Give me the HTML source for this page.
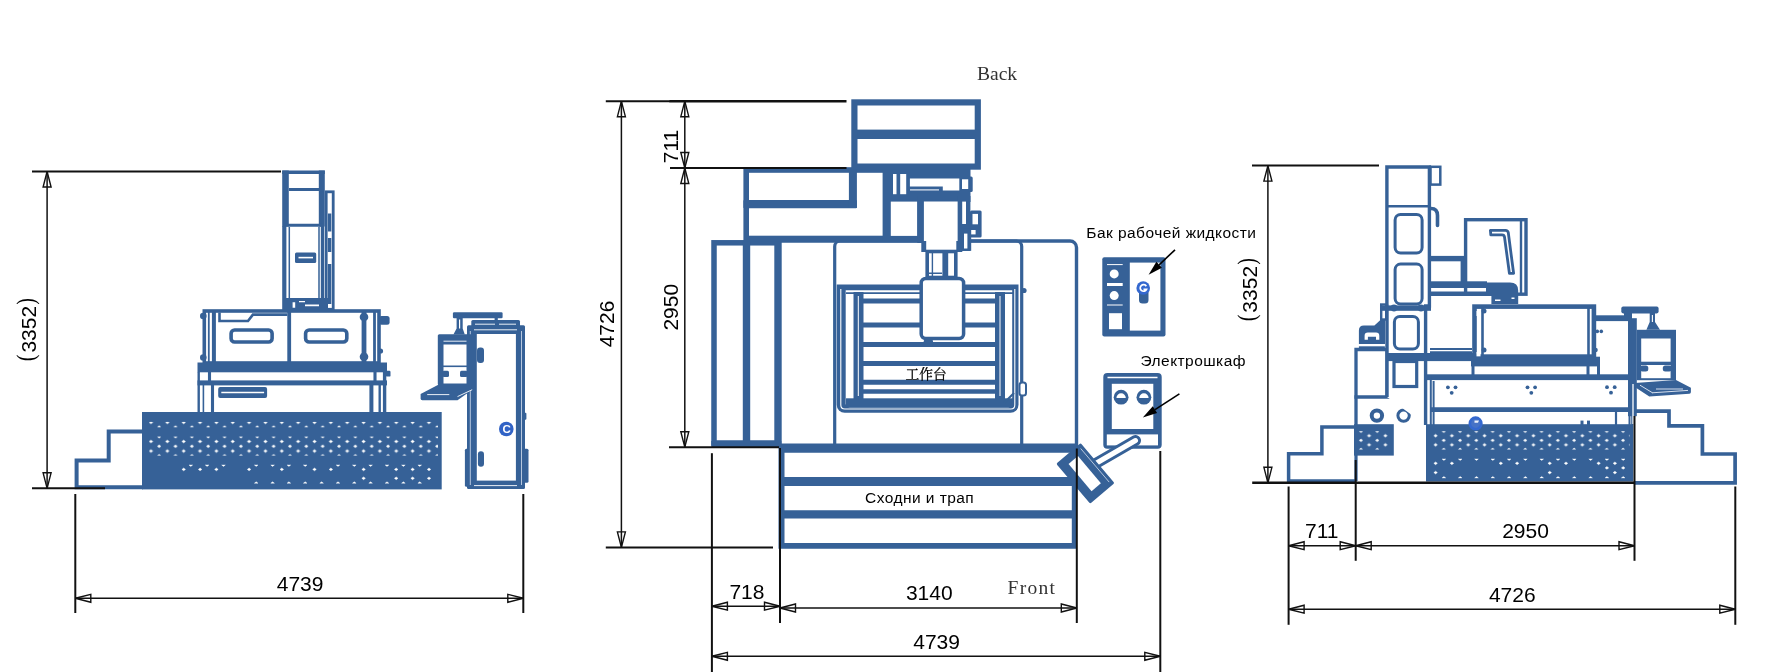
<!DOCTYPE html>
<html><head><meta charset="utf-8"><title>Machine layout</title>
<style>
html,body{margin:0;padding:0;background:#fff;}
body{width:1775px;height:672px;overflow:hidden;}
svg{display:block;will-change:transform;}
.b{stroke:#366197;fill:none;}
.bw{stroke:#366197;fill:#fff;}
.bf{fill:#366197;stroke:none;}
.k{stroke:#111;fill:none;stroke-width:1.5;}
.ke{stroke:#111;fill:none;stroke-width:2;}
.ar{fill:none;stroke:#111;stroke-width:1.4;}
.t{font-family:"Liberation Sans",sans-serif;font-size:21px;fill:#000;text-anchor:middle;}
.pf{font-family:"Liberation Serif",serif;font-size:26px;fill:#000;text-anchor:middle;}
.ts{font-family:"Liberation Sans",sans-serif;font-size:15.5px;letter-spacing:0.45px;fill:#000;}
.sf{font-family:"Liberation Serif","Noto Serif CJK SC",serif;fill:#333;}
</style></head><body>
<svg width="1775" height="672" viewBox="0 0 1775 672">
<defs>
<pattern id="dots" x="148.5" y="420" width="16.35" height="9.55" patternUnits="userSpaceOnUse">
<path d="M2.500 1l1.800 1.400-1.800 1.400-1.800-1.400zM10.675 5.775l1.800 1.400-1.800 1.400-1.800-1.400z" fill="#fff" stroke="#fff" stroke-width=".4" stroke-linejoin="round"/>
</pattern>
<pattern id="dotr" x="1433.100" y="433.500" width="16.300" height="9.100" patternUnits="userSpaceOnUse">
<path d="M2.500 .900l1.800 1.400-1.800 1.400-1.800-1.400zM10.650 5.450l1.800 1.400-1.800 1.400-1.800-1.400z" fill="#fff" stroke="#fff" stroke-width=".4" stroke-linejoin="round"/>
</pattern>
<pattern id="dots2" x="1366.600" y="433.500" width="16.300" height="9.100" patternUnits="userSpaceOnUse">
<path d="M2.500 .900l1.800 1.400-1.800 1.400-1.800-1.400zM10.650 5.450l1.800 1.400-1.800 1.400-1.800-1.400z" fill="#fff" stroke="#fff" stroke-width=".4" stroke-linejoin="round"/>
</pattern>
</defs>
<rect width="1775" height="672" fill="#fff"/>
<!--LEFT-->
<g id="left">
<!-- column -->
<rect x="283" y="171" width="41" height="139" fill="#fff"/>
<path class="b" stroke-width="6.600" d="M285.500 170.500v56"/>
<path class="b" stroke-width="6" d="M321.800 170.500v56"/>
<path class="b" stroke-width="3.400" d="M282.200 172.300h42.600"/>
<path class="b" stroke-width="3" d="M289 189.500h30M286 225.200h36"/>
<path class="b" stroke-width="4.200" d="M284.300 226v84"/>
<path class="b" stroke-width="3.400" d="M322.500 226v84"/>
<path class="b" stroke-width="1.500" d="M289.300 227v72M319 227v72"/>
<rect class="bw" x="326.200" y="191.800" width="7" height="117.500" stroke-width="2.800"/>
<path class="b" stroke-width="3.400" d="M329.600 213.600v18M329.600 238v14M329.600 264v40"/>
<rect class="bf" x="295" y="252.400" width="21.200" height="10.500" rx="1.500"/>
<path d="M298.500 257.600h14.500" stroke="#fff" stroke-width="1.600"/>
<rect class="bf" x="286" y="298" width="42" height="12"/>
<path d="M292.600 302.300h2.600v5.500h-2.600zM305 304.400h14v1.800h-14zM299 301h6v1.200h-6z" fill="#fff"/>
<!-- tank -->
<rect class="bw" x="204.300" y="311" width="174.700" height="52" stroke-width="3.600"/>
<path class="b" stroke-width="1.800" d="M208.800 312v50"/>
<path class="b" stroke-width="4" d="M213.900 312v50"/>
<path class="b" stroke-width="4.800" d="M364 312v50"/>
<path class="b" stroke-width="2.800" d="M374.500 312v50"/>
<rect class="bf" x="287.300" y="311" width="3.800" height="52"/>
<rect class="bw" x="231.100" y="330" width="41" height="12" rx="3.500" stroke-width="3.600"/>
<rect class="bw" x="305.600" y="330" width="41.200" height="12" rx="3.500" stroke-width="3.600"/>
<path class="b" stroke-width="2.600" d="M219.500 312.500v8.500h28.500l4.900-6.400h34.500"/>
<rect class="bf" x="379" y="316.100" width="10.600" height="8.700" rx="2.500"/>
<circle class="bf" cx="203.300" cy="316" r="3.300"/><circle class="bf" cx="203.300" cy="357.500" r="3.300"/>
<circle class="bf" cx="364" cy="317" r="4.300"/><circle class="bf" cx="364" cy="356.700" r="4.300"/>
<circle class="bf" cx="380.500" cy="351" r="2.600"/>
<!-- table -->
<rect class="bf" x="197.500" y="362.500" width="189.500" height="9.800"/>
<rect class="bf" x="197.500" y="380.400" width="189.500" height="5"/>
<path class="b" stroke-width="2.400" d="M198.700 372v40"/><path class="b" stroke-width="3.400" d="M384.600 372v40"/>
<path class="b" stroke-width="3.100" d="M209.500 372v9M375 372v9"/>
<path class="b" stroke-width="3.100" d="M212.500 385v27"/><path class="b" stroke-width="4" d="M371.400 385v27"/>
<path class="b" stroke-width="1.600" d="M203.400 385v27"/><path class="b" stroke-width="2.400" d="M379.700 385v27"/>
<rect class="bf" x="386" y="370.800" width="4.500" height="5.800" rx="1.200"/>
<rect class="bf" x="218.200" y="387.100" width="48.900" height="10.800" rx="2"/>
<path d="M221.300 392.500h42.800" stroke="#fff" stroke-width="1.600"/>
<!-- grate -->
<rect class="bf" x="142" y="412" width="299.700" height="77.400"/>
<rect x="149" y="421.900" width="289" height="5.400" fill="url(#dots)"/>
<rect x="149" y="436.600" width="289" height="19" fill="url(#dots)"/>
<path d="M189.0 465.0h3.6l-1.8 1.4zM205.3 465.0h3.6l-1.8 1.4zM221.7 465.0h3.6l-1.8 1.4zM254.4 465.0h3.6l-1.8 1.4zM270.8 465.0h3.6l-1.8 1.4zM287.1 465.0h3.6l-1.8 1.4zM303.4 465.0h3.6l-1.8 1.4zM336.2 465.0h3.6l-1.8 1.4zM352.5 465.0h3.6l-1.8 1.4zM368.8 465.0h3.6l-1.8 1.4zM385.2 465.0h3.6l-1.8 1.4zM401.6 465.0h3.6l-1.8 1.4zM417.9 465.0h3.6l-1.8 1.4zM183.7 468.0l1.8 1.4 -1.8 1.4 -1.8 -1.4zM200.1 468.0l1.8 1.4 -1.8 1.4 -1.8 -1.4zM216.4 468.0l1.8 1.4 -1.8 1.4 -1.8 -1.4zM249.1 468.0l1.8 1.4 -1.8 1.4 -1.8 -1.4zM281.8 468.0l1.8 1.4 -1.8 1.4 -1.8 -1.4zM314.5 468.0l1.8 1.4 -1.8 1.4 -1.8 -1.4zM330.9 468.0l1.8 1.4 -1.8 1.4 -1.8 -1.4zM363.6 468.0l1.8 1.4 -1.8 1.4 -1.8 -1.4zM396.2 468.0l1.8 1.4 -1.8 1.4 -1.8 -1.4zM412.6 468.0l1.8 1.4 -1.8 1.4 -1.8 -1.4zM429.0 468.0l1.8 1.4 -1.8 1.4 -1.8 -1.4zM363.6 476.9l1.8 1.4 -1.8 1.4 -1.8 -1.4zM396.2 476.9l1.8 1.4 -1.8 1.4 -1.8 -1.4zM412.6 476.9l1.8 1.4 -1.8 1.4 -1.8 -1.4zM429.0 476.9l1.8 1.4 -1.8 1.4 -1.8 -1.4zM256.2 481.8l1.8 1.4h-3.6zM272.6 481.8l1.8 1.4h-3.6zM288.9 481.8l1.8 1.4h-3.6zM305.2 481.8l1.8 1.4h-3.6zM321.6 481.8l1.8 1.4h-3.6zM338.0 481.8l1.8 1.4h-3.6zM354.3 481.8l1.8 1.4h-3.6zM370.6 481.8l1.8 1.4h-3.6zM387.0 481.8l1.8 1.4h-3.6zM403.4 481.8l1.8 1.4h-3.6zM419.7 481.8l1.8 1.4h-3.6z" fill="#fff" stroke="#fff" stroke-width=".4" stroke-linejoin="round"/>
<!-- steps -->
<path class="b" stroke-width="4" d="M143 431.600h-34.300v29h-32.100v26.700h66.400" fill="#fff"/>
<!-- cabinet -->
<rect class="bf" x="471.300" y="319.900" width="48.700" height="8" rx="1.500"/>
<rect class="bf" x="467" y="325.300" width="58" height="163.800" rx="1.500"/>
<rect class="bf" x="464.900" y="448.800" width="5" height="38" rx="1.500"/>
<rect class="bf" x="523" y="448.800" width="5.500" height="34" rx="1.500"/>
<rect class="bf" x="523" y="412.700" width="3.400" height="7.100" rx="1"/>
<rect x="476.800" y="334" width="39.100" height="146.600" fill="#fff"/>
<path d="M475 324.200h20M499 324.200h17M474 329.800h43M474 485.600h43" stroke="#e8eef6" stroke-width="1"/>
<path d="M470.300 331v154M521.500 331v154" stroke="#c5d3e6" stroke-width=".9"/>
<rect class="bf" x="477" y="347.400" width="7" height="15.600" rx="3"/>
<rect class="bf" x="477.900" y="451.200" width="6.100" height="15.600" rx="3"/>
<!-- pendant -->
<rect class="bf" x="452.900" y="312.300" width="49.700" height="5.900" rx="1.200"/>
<rect class="bf" x="494.600" y="317" width="3.200" height="5"/>
<path class="bf" d="M456.600 317h6.100v11.600l2.100 5.800h-11.400l3.200 -5.800z"/>
<path d="M459.600 319.500v9" stroke="#fff" stroke-width="1.200"/>
<rect class="bf" x="437.800" y="334.200" width="35.200" height="51.200" rx="1.500"/>
<path d="M443.500 341.200h23" stroke="#e8eef6" stroke-width="1"/>
<rect x="443.500" y="344.500" width="23" height="21" fill="#fff"/>
<rect x="443.500" y="367.100" width="23" height="16.400" fill="#fff"/>
<rect class="bf" x="442.500" y="370.700" width="6.500" height="6.300" rx="1.500"/><rect class="bf" x="460" y="370.700" width="7.500" height="6.300" rx="1.500"/>
<path class="bf" d="M420.600 394.100l17.200 -9h35.200v4.100l-15.500 11h-35.200q-1.700 0 -1.700 -1.700z"/>
<path d="M427.200 394.600h22.100M457.500 396.600l14.700 -6.900" stroke="#e8eef6" stroke-width="1" fill="none"/>
<!-- logo -->
<circle cx="506.300" cy="429" r="7.300" fill="#3163c6"/>
<text x="506.700" y="433.100" text-anchor="middle" font-family="Liberation Sans,sans-serif" font-weight="bold" font-size="11.500" fill="#fff">C</text>
</g>
<!--MID-->
<g id="mid">
<!-- main bed thin outlines -->
<path class="bw" stroke-width="3.400" d="M780 241h290a6.500 6.500 0 0 1 6.500 6.500v197.700h-296.500z"/>
<path class="b" stroke-width="3.200" d="M834.700 445v-198.500a5.500 5.500 0 0 1 5.500 -5.500h176a5.500 5.500 0 0 1 5.500 5.500v198.500"/>
<!-- left block -->
<rect class="bw" x="714" y="242.800" width="64" height="200.200" stroke-width="5.500"/>
<rect class="bf" x="742.800" y="242" width="7.400" height="203"/>
<rect class="bf" x="774.300" y="242" width="6.300" height="203"/>
<rect class="bf" x="711.300" y="441" width="70" height="6.200"/>
<!-- L block upper-left -->
<rect class="bw" x="746.200" y="170" width="141" height="68.500" stroke-width="5.600"/>
<rect class="bf" x="743.400" y="200.100" width="113.500" height="8.100" rx="1"/>
<rect class="bf" x="848.900" y="169" width="8" height="39"/>
<rect class="bf" x="882.600" y="169" width="8.200" height="72"/>

<!-- head zone -->
<rect class="bf" x="888" y="168" width="82.500" height="34"/>
<rect x="893" y="174" width="3.500" height="20.200" fill="#fff"/>
<rect x="900.200" y="174" width="6" height="20.200" fill="#fff"/>
<path d="M909.900 178.600h49.400v11.900h-16.500v-4h-32.900z" fill="#fff"/>
<path d="M910 189.800h29M930 197.200h19.600" stroke="#dbe4f0" stroke-width="1.200"/>
<rect class="bf" x="968" y="176.400" width="4.700" height="15.600" rx="1.500"/>
<rect x="962" y="179.300" width="6.200" height="9.700" fill="#fff"/>
<rect class="bf" x="888" y="200" width="36" height="41"/>
<rect x="890.800" y="201.600" width="26.500" height="34.300" fill="#fff"/>
<path class="bf" d="M917.300 196h45v56h-41v-9h-4z"/>
<path d="M923.900 201.600h33.900v39.400h-1.500v9.400h-30.100v-9.400h-2.300z" fill="#fff"/>
<rect class="bf" x="957.800" y="196" width="12.600" height="55"/>
<rect x="962.200" y="201.600" width="3.800" height="22.400" fill="#fff"/>
<rect class="bf" x="970" y="210.600" width="11.600" height="26.800" rx="1.500"/>
<rect x="972.500" y="213.900" width="5.500" height="10.400" fill="#fff"/>
<rect x="971" y="230" width="4.600" height="4.400" fill="#fff"/>
<rect class="bf" x="963" y="228.400" width="8.200" height="22.400"/>
<rect x="964" y="233.600" width="3.400" height="14.900" fill="#fff"/>
<!-- tank/table -->
<path class="bf" d="M836.700 284.500h181.800v120.300a8 8 0 0 1 -8 8h-165.800a8 8 0 0 1 -8 -8z"/>
<path d="M845.700 290.200h166.500v113a4 4 0 0 1 -4 4h-158.500a4 4 0 0 1 -4 -4z" fill="#fff"/>
<path class="b" stroke-width="1.100" d="M840.800 289v116q0 4 4 4h166q4 0 4 -4v-116" style="stroke:#fff"/>
<path class="b" stroke-width="1.800" d="M846 293.200h167"/>
<rect class="bf" x="853.500" y="292" width="10" height="108"/>
<rect class="bf" x="995" y="292" width="10" height="108"/>
<path d="M858.300 296v100M1000 296v100" stroke="#fff" stroke-width="1"/>
<path class="b" stroke-width="5" d="M862 301h135M862 325h135M862 344.400h135M862 363.500h135M862 382.300h135"/>
<path class="b" stroke-width="4.500" d="M862 391.500h135"/>
<rect class="bf" x="846" y="398.300" width="167" height="9"/>
<circle class="bf" cx="1024" cy="290.500" r="2.600"/>
<rect class="bw" x="1019.500" y="382.500" width="6.500" height="13" rx="2.500" stroke-width="2"/>
<path class="b" stroke-width="2.200" d="M1004 403l10-10"/>
<!-- head neck & lower -->
<rect class="bw" x="927.200" y="251.500" width="28.600" height="26" stroke-width="3.600"/>
<path class="b" stroke-width="1.400" d="M932.400 252v25M929 273.300h13"/>
<path class="b" stroke-width="5.800" d="M945.300 252v25"/>
<rect class="bw" x="921.200" y="278.500" width="42.400" height="60" rx="4.500" stroke-width="3.500"/>
<rect class="bf" x="923.700" y="339" width="9.300" height="8" rx="2.500"/>
<!-- top box -->
<rect class="bw" x="854.400" y="102.400" width="123.400" height="64.200" stroke-width="6.200"/>
<rect class="bf" x="852" y="129.600" width="128" height="9.400"/>
<!-- ramp steps -->
<rect x="780" y="448" width="295" height="99" fill="#fff"/>
<path class="bf" d="M778.500 446.500h298.100v102.300h-298.100zM784.500 452.800v24.300h287.300v-24.300zM784.500 486v24.300h287.300v-24.300zM784.500 518.500v24.600h287.300v-24.600z" fill-rule="evenodd"/>
<!-- liquid tank -->
<rect class="bf" x="1102.300" y="257.200" width="63.200" height="79.400" rx="2"/>
<rect x="1129.800" y="262.600" width="30.600" height="68" fill="#fff"/>
<path d="M1107 264.600h15.700M1107 305h15.700" stroke="#fff" stroke-width="1"/>
<rect x="1107" y="283" width="15.700" height="3" fill="#fff"/>
<circle cx="1114.200" cy="273.900" r="4.500" fill="#fff"/><circle cx="1114.200" cy="295.600" r="4.500" fill="#fff"/>
<rect x="1109" y="313.200" width="13" height="16" fill="#fff"/>
<rect class="bf" x="1139" y="289" width="9.500" height="14.500" rx="3.500"/>
<circle cx="1143.200" cy="288" r="6.800" fill="#3468cf"/>
<path d="M1146.300 286.200a3.300 3.300 0 1 0 .2 3.100h-3" stroke="#fff" stroke-width="1.700" fill="none"/>
<!-- electric cabinet -->
<rect class="bf" x="1103.300" y="373" width="58.400" height="75.800" rx="4"/>
<path d="M1107.500 377.600h50" stroke="#fff" stroke-width="1.500"/>
<rect x="1111.800" y="383.800" width="41.500" height="45.200" fill="#fff"/>
<rect x="1106.800" y="434.400" width="51.200" height="11" fill="#fff"/>
<circle class="bf" cx="1121.100" cy="397.200" r="7.400"/>
<circle class="bf" cx="1143.900" cy="397.200" r="7.400"/>
<path d="M1116.400 398a4.700 4.700 0 0 1 9.400 0zM1139.200 398a4.700 4.700 0 0 1 9.400 0z" fill="#fff"/>
<!-- arm -->
<path d="M1135.500 440.500l-41.500 24" stroke="#366197" stroke-width="11" stroke-linecap="round" fill="none"/>
<path d="M1135.500 440.500l-41.500 24" stroke="#fff" stroke-width="5" stroke-linecap="round" fill="none"/>
<g transform="translate(1085.400 473.400) rotate(49.700)">
<rect class="bf" x="-26.200" y="-16" width="52.400" height="32" rx="1.500"/>
<rect x="-18" y="-5.500" width="35.500" height="12.300" fill="#fff"/>
<path d="M-22 -12.500h44" stroke="#c9d6e8" stroke-width=".8"/>
</g>
</g>
<!--RIGHT-->
<g id="right">
<!-- stairs left -->
<path class="bw" stroke-width="3.500" d="M1356 427h-34.100v26.700h-33.300v27.400h67.400"/>
<!-- stairs right -->
<path class="bw" stroke-width="3.700" d="M1635 411.200H1669V425.900H1702.400V454H1735.100V482.900H1635"/>
<!-- left block -->
<path class="bw" stroke-width="3.300" d="M1356 425.500v-76h31v47.500"/>
<path class="b" stroke-width="3.400" d="M1354.400 397h72"/>
<path class="b" stroke-width="3.200" d="M1356 425v56"/>
<circle class="bw" cx="1376.900" cy="415.600" r="5.200" stroke-width="4"/>
<circle class="bw" cx="1403.600" cy="415.600" r="5.700" stroke-width="3"/>
<path class="bf" d="M1358.900 344v-13.500q0-5 5-5h10.500l6-5.500h4.600v24z"/>
<rect class="bf" x="1358.900" y="346.300" width="26" height="2"/>
<path d="M1364.600 339.800v-4q0-3.300 3.300-3.300h8.100q3.300 0 3.300 3.300v4h-3.300v-3h-8.100v3z" fill="#fff"/>
<rect class="bw" x="1381.200" y="304.500" width="5" height="15" stroke-width="2.400"/>
<!-- small grate -->
<rect class="bf" x="1354" y="424.200" width="39.800" height="31.400"/>
<rect x="1358" y="431.200" width="33" height="18.300" fill="url(#dots2)"/>
<!-- column -->
<path class="bw" stroke-width="3.400" d="M1387 397v-91h-.1v-139h42.500v139h-3.800v119"/>
<rect class="bw" x="1430.500" y="166.800" width="9.800" height="17.800" stroke-width="2.500"/>
<path class="b" stroke-width="2.600" d="M1388 206.300h42"/>
<rect class="bw" x="1395.100" y="214.500" width="27" height="38.500" rx="5.500" stroke-width="3"/>
<rect class="bw" x="1395.100" y="264.100" width="27" height="39.900" rx="5.500" stroke-width="3"/>
<rect class="bw" x="1394.400" y="316.500" width="24" height="32.500" rx="5.500" stroke-width="3"/>
<rect class="bf" x="1380.500" y="305.400" width="50.500" height="5.400"/>
<circle class="bf" cx="1394" cy="308" r="3.400"/><circle class="bf" cx="1421" cy="308" r="3.400"/>
<rect class="bf" x="1386" y="353" width="90" height="8.100"/>
<rect class="bw" x="1394" y="361.500" width="22.700" height="25" stroke-width="3.200"/>

<path class="b" stroke-width="3.600" d="M1431 208.500q6.500 0 6.500 7v10" stroke-linecap="round"/>
<!-- head box -->
<rect class="bw" x="1465.600" y="219.700" width="60.400" height="74.500" stroke-width="3.400"/>
<path class="b" stroke-width="2.400" d="M1521 220v74"/>
<path class="bw" stroke-width="2.800" stroke-linejoin="round" d="M1490.400 230.300h15q2.500 0 2.900 2.500l5.300 40.500h-4.200l-4.900-36.300q-.3-2.200-2.500-2.200h-11.200z"/>
<!-- arms -->
<rect class="bf" x="1431" y="255.900" width="35" height="5.400"/>
<rect class="bf" x="1460.600" y="256" width="5.400" height="26"/>
<rect class="bf" x="1431" y="281.300" width="56" height="6.700"/>
<rect class="bf" x="1431" y="291.500" width="58" height="4.500"/>
<path class="bf" d="M1486 282.600h24q8.200 0 8.200 8v13.400h-26.800v-8h-5.400z"/>
<path d="M1495 300.300h5.500M1511.500 298.300h3" stroke="#fff" stroke-width="1.600"/>
<!-- between column and tank -->
<path class="b" stroke-width="2" d="M1430 349h42M1430 352.300h42"/>
<!-- tank -->
<rect class="bw" x="1474.500" y="306.600" width="119.400" height="50" stroke-width="4.600"/>
<path class="b" stroke-width="2.600" d="M1482.500 307v50M1588.500 307v50"/>
<rect x="1476.500" y="311" width="4" height="5" fill="#fff"/><rect x="1476.500" y="352" width="4" height="4.500" fill="#fff"/>
<circle class="bf" cx="1484" cy="311" r="2.500"/><circle class="bf" cx="1484" cy="350" r="2.500"/>
<rect class="bf" x="1471" y="356.700" width="129" height="9.700"/>
<path class="b" stroke-width="3" d="M1473 365v10M1588 365v10M1598.500 365v10"/>
<!-- base -->
<rect class="bf" x="1426" y="374.300" width="206.500" height="5.800"/>
<path class="b" stroke-width="2" d="M1430.800 376v49M1433.600 381v44"/>
<path class="b" stroke-width="4.800" d="M1430 409.600h201"/>
<path class="b" stroke-width="2" d="M1629.500 380v45M1632.200 380v45"/>
<path class="b" stroke-width="2.200" d="M1616 411v14"/>
<g class="bf"><circle cx="1447.900" cy="387.300" r="1.900"/><circle cx="1455.500" cy="387.300" r="1.900"/><circle cx="1451.700" cy="392.800" r="1.900"/>
<circle cx="1527.500" cy="387.300" r="1.900"/><circle cx="1535.100" cy="387.300" r="1.900"/><circle cx="1531.300" cy="392.800" r="1.900"/>
<circle cx="1607" cy="387.200" r="1.900"/><circle cx="1614.700" cy="387.200" r="1.900"/><circle cx="1611" cy="392.700" r="1.900"/></g>
<!-- main grate -->
<rect class="bf" x="1426" y="424.200" width="207.300" height="57.300"/>
<rect x="1432" y="431.200" width="198" height="18.300" fill="url(#dotr)"/>
<path d="M1442.1 459.0h3.6l-1.8 1.4zM1458.4 459.0h3.6l-1.8 1.4zM1474.7 459.0h3.6l-1.8 1.4zM1491.0 459.0h3.6l-1.8 1.4zM1507.3 459.0h3.6l-1.8 1.4zM1523.6 459.0h3.6l-1.8 1.4zM1539.9 459.0h3.6l-1.8 1.4zM1556.2 459.0h3.6l-1.8 1.4zM1572.5 459.0h3.6l-1.8 1.4zM1588.8 459.0h3.6l-1.8 1.4zM1605.1 459.0h3.6l-1.8 1.4zM1621.4 459.0h3.6l-1.8 1.4zM1435.6 461.9l1.8 1.4 -1.8 1.4 -1.8 -1.4zM1451.9 461.9l1.8 1.4 -1.8 1.4 -1.8 -1.4zM1500.8 461.9l1.8 1.4 -1.8 1.4 -1.8 -1.4zM1517.1 461.9l1.8 1.4 -1.8 1.4 -1.8 -1.4zM1549.7 461.9l1.8 1.4 -1.8 1.4 -1.8 -1.4zM1566.0 461.9l1.8 1.4 -1.8 1.4 -1.8 -1.4zM1598.6 461.9l1.8 1.4 -1.8 1.4 -1.8 -1.4zM1614.9 461.9l1.8 1.4 -1.8 1.4 -1.8 -1.4zM1606.9 466.5l1.8 1.4 -1.8 1.4 -1.8 -1.4zM1623.2 466.5l1.8 1.4 -1.8 1.4 -1.8 -1.4zM1435.6 471.2l1.8 1.4 -1.8 1.4 -1.8 -1.4zM1549.7 471.2l1.8 1.4 -1.8 1.4 -1.8 -1.4zM1614.9 471.2l1.8 1.4 -1.8 1.4 -1.8 -1.4zM1443.9 476.5l1.8 1.4h-3.6zM1460.2 476.5l1.8 1.4h-3.6zM1476.5 476.5l1.8 1.4h-3.6zM1492.8 476.5l1.8 1.4h-3.6zM1509.1 476.5l1.8 1.4h-3.6zM1525.4 476.5l1.8 1.4h-3.6zM1541.7 476.5l1.8 1.4h-3.6zM1558.0 476.5l1.8 1.4h-3.6zM1574.3 476.5l1.8 1.4h-3.6zM1590.6 476.5l1.8 1.4h-3.6zM1606.9 476.5l1.8 1.4h-3.6zM1623.2 476.5l1.8 1.4h-3.6z" fill="#fff" stroke="#fff" stroke-width=".4" stroke-linejoin="round"/>
<rect class="bf" x="1580.500" y="420.600" width="3" height="4.500"/><rect class="bf" x="1587" y="420.600" width="3" height="4.500"/>
<!-- right of tank -->
<rect class="bf" x="1595" y="315.300" width="34" height="5.800"/>
<circle class="bf" cx="1597.300" cy="331.400" r="1.800"/><circle class="bf" cx="1601.300" cy="331.400" r="1.800"/>
<circle class="bf" cx="1595.500" cy="350" r="2.300"/>
<!-- pendant -->
<rect class="bf" x="1621.300" y="306.600" width="37.300" height="6.800" rx="1.800"/>
<rect class="bf" x="1624" y="312" width="8" height="8"/>
<rect class="bf" x="1628" y="318.200" width="8.800" height="98"/>
<path d="M1633 384v40" stroke="#fff" stroke-width="1.300"/>
<path class="bf" d="M1649.700 313h5.300v9l5 7.800h-13.600l3.300 -7.800z"/>
<path d="M1652.400 315v7" stroke="#fff" stroke-width="1.100"/>
<rect class="bf" x="1636.700" y="329.800" width="39.300" height="50.400"/>
<rect x="1641.200" y="338.500" width="29.400" height="23.200" fill="#fff"/>
<path d="M1641.200 365h29.400v13.200h-29.400z" fill="#fff"/>
<rect class="bf" x="1640" y="365.600" width="8.300" height="6" rx="2.500"/><rect class="bf" x="1662.800" y="365.600" width="9" height="6" rx="2.500"/>
<path class="bf" d="M1634.800 383l41.200 -2.900l14.900 7.700v4.300q0 1.500 -1.500 1.600l-40.100 2.800l-14.500 -9.600z"/>
<path d="M1640 385.200l12.500 7.600M1656 389h27M1652 392.800l36 -2.400" stroke="#d5dfed" stroke-width="1" fill="none"/>
<!-- logo -->
<circle cx="1475.600" cy="423.400" r="5.800" fill="#4672c6" stroke="#3468cf" stroke-width="2.600"/>
<path d="M1474.500 420.500h4.500l-1 2.200h-3.500z" fill="#fff" opacity=".9"/>
</g>
<!--DIMS-->
<g id="dims">
<path class="ke" d="M32 171.5L281 171.5"/>
<path class="ke" d="M32 488.3L105 488.3"/>
<path class="k" d="M47.1 171.5L47.1 488.3"/>
<path class="ar" d="M0 0L15.5 -4V4Z" transform="translate(47.1 171.5) rotate(90)"/>
<path class="ar" d="M0 0L15.5 -4V4Z" transform="translate(47.1 488.3) rotate(-90)"/>
<text class="t" transform="translate(36.2 329.2) rotate(-90)">3352</text>
<text class="pf" transform="translate(34.3 301.3) rotate(-90) scale(0.78 1)">)</text>
<text class="pf" transform="translate(34.3 358) rotate(-90) scale(0.78 1)">(</text>
<path class="ke" d="M75.3 494L75.3 613"/>
<path class="ke" d="M523.3 494L523.3 613"/>
<path class="k" d="M75.3 598.3L523.3 598.3"/>
<path class="ar" d="M0 0L15.5 -4V4Z" transform="translate(75.3 598.3) rotate(0)"/>
<path class="ar" d="M0 0L15.5 -4V4Z" transform="translate(523.3 598.3) rotate(180)"/>
<text class="t" x="300.1" y="590.9">4739</text>
<path class="ke" d="M605.8 101.2L670 101.2"/>
<path d="M669.5 101.3H846.5" stroke="#111" stroke-width="2.5"/>
<path class="ke" d="M670 168.1L846.5 168.1"/>
<path class="ke" d="M669 447.2L779 447.2"/>
<path class="ke" d="M605.8 547.4L773 547.4"/>
<path class="k" d="M621.4 101.2L621.4 547.4"/>
<path class="ar" d="M0 0L15.5 -4V4Z" transform="translate(621.4 101.2) rotate(90)"/>
<path class="ar" d="M0 0L15.5 -4V4Z" transform="translate(621.4 547.4) rotate(-90)"/>
<text class="t" transform="translate(614.1 324) rotate(-90)">4726</text>
<path class="k" d="M684.8 101.2L684.8 168"/>
<path class="ar" d="M0 0L15.5 -4V4Z" transform="translate(684.8 101.2) rotate(90)"/>
<path class="ar" d="M0 0L15.5 -4V4Z" transform="translate(684.8 168) rotate(-90)"/>
<path class="k" d="M684.8 168L684.8 447.2"/>
<path class="ar" d="M0 0L15.5 -4V4Z" transform="translate(684.8 168) rotate(90)"/>
<path class="ar" d="M0 0L15.5 -4V4Z" transform="translate(684.8 447.2) rotate(-90)"/>
<text class="t" transform="translate(677.8 146.5) rotate(-90)">711</text>
<text class="t" transform="translate(677.8 307.2) rotate(-90)">2950</text>
<path class="ke" d="M711.9 453.2L711.9 672"/>
<path class="ke" d="M780 448L780 623"/>
<path class="ke" d="M1076.8 448.5L1076.8 623"/>
<path class="ke" d="M1160.3 451L1160.3 672"/>
<path class="k" d="M711.9 606.2L780 606.2"/>
<path class="ar" d="M0 0L15.5 -4V4Z" transform="translate(711.9 606.2) rotate(0)"/>
<path class="ar" d="M0 0L15.5 -4V4Z" transform="translate(780 606.2) rotate(180)"/>
<path class="k" d="M780 608L1076.8 608"/>
<path class="ar" d="M0 0L15.5 -4V4Z" transform="translate(780 608) rotate(0)"/>
<path class="ar" d="M0 0L15.5 -4V4Z" transform="translate(1076.8 608) rotate(180)"/>
<path class="k" d="M711.9 656.3L1160.3 656.3"/>
<path class="ar" d="M0 0L15.5 -4V4Z" transform="translate(711.9 656.3) rotate(0)"/>
<path class="ar" d="M0 0L15.5 -4V4Z" transform="translate(1160.3 656.3) rotate(180)"/>
<text class="t" x="746.9" y="598.5">718</text>
<text class="t" x="929.3" y="600.4">3140</text>
<text class="t" x="936.6" y="648.6">4739</text>
<path class="ke" d="M1252 165.6L1379 165.6"/>
<path d="M1252.200 482.800H1634" stroke="#111" stroke-width="2.400"/>
<path class="k" d="M1267.9 165.6L1267.9 482.8"/>
<path class="ar" d="M0 0L15.5 -4V4Z" transform="translate(1267.9 165.6) rotate(90)"/>
<path class="ar" d="M0 0L15.5 -4V4Z" transform="translate(1267.9 482.8) rotate(-90)"/>
<text class="t" transform="translate(1256.5 289.3) rotate(-90)">3352</text>
<text class="pf" transform="translate(1254.6 261.3) rotate(-90) scale(0.78 1)">)</text>
<text class="pf" transform="translate(1254.6 318) rotate(-90) scale(0.78 1)">(</text>
<path class="ke" d="M1288.6 486.5L1288.6 624.8"/>
<path class="ke" d="M1355.7 460L1355.7 560.8"/>
<path class="ke" d="M1634.5 416L1634.5 560.8"/>
<path class="ke" d="M1735.3 486.5L1735.3 624.8"/>
<path class="k" d="M1288.6 545.7L1355.7 545.7"/>
<path class="ar" d="M0 0L15.5 -4V4Z" transform="translate(1288.6 545.7) rotate(0)"/>
<path class="ar" d="M0 0L15.5 -4V4Z" transform="translate(1355.7 545.7) rotate(180)"/>
<path class="k" d="M1355.7 545.7L1634.5 545.7"/>
<path class="ar" d="M0 0L15.5 -4V4Z" transform="translate(1355.7 545.7) rotate(0)"/>
<path class="ar" d="M0 0L15.5 -4V4Z" transform="translate(1634.5 545.7) rotate(180)"/>
<path class="k" d="M1288.6 609.2L1735.3 609.2"/>
<path class="ar" d="M0 0L15.5 -4V4Z" transform="translate(1288.6 609.2) rotate(0)"/>
<path class="ar" d="M0 0L15.5 -4V4Z" transform="translate(1735.3 609.2) rotate(180)"/>
<text class="t" x="1321.7" y="537.8">711</text>
<text class="t" x="1525.5" y="537.8">2950</text>
<text class="t" x="1512.3" y="601.8">4726</text>
<text class="sf" x="977" y="80.4" font-size="19.5">Back</text>
<text class="sf" x="1007.5" y="593.7" font-size="19.5" letter-spacing="1.3">Front</text>
<text class="ts" x="1086.3" y="238">Бак рабочей жидкости</text>
<text class="ts" x="1140.5" y="366">Электрошкаф</text>
<text class="ts" x="865" y="502.5">Сходни и трап</text>
<text class="sf" x="905.5" y="378.6" font-size="13.7" style="fill:#000;stroke:#000;stroke-width:.25px">工作台</text>
<path d="M1175 249.8L1159.1 264.8" stroke="#000" stroke-width="1.6" fill="none"/>
<path d="M1148.6 274.7L1156.4 261.8L1161.9 267.7Z" fill="#000"/>
<path d="M1179.4 393.8L1155.0 409.6" stroke="#000" stroke-width="1.6" fill="none"/>
<path d="M1142.8 417.5L1152.8 406.3L1157.1 413.0Z" fill="#000"/>
</g>
</svg>
</body></html>
